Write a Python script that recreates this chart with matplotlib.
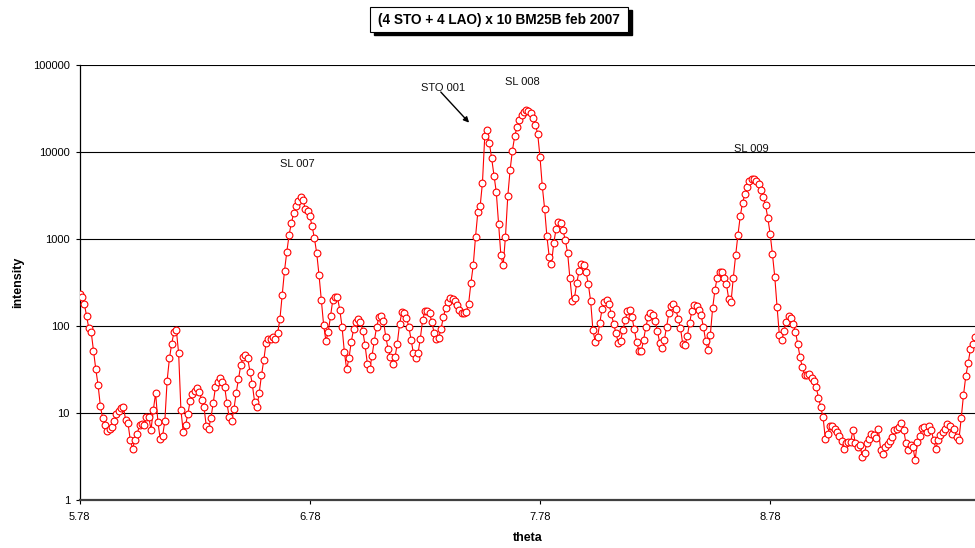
import numpy as np
import matplotlib.pyplot as plt
from matplotlib.patches import Rectangle

plt.rcParams['font.family'] = ['Liberation Sans', 'DejaVu Sans']

# scan grid: theta from 5.78 in 0.01 deg steps
theta_start = 5.78
theta_step = 0.01

# intensities, 5.78 .. 7.06
counts_low = [
    237, 214, 182, 130, 94, 86, 52, 32, 21, 12,
    8.7, 7.3, 6.3, 6.6, 6.9, 8.2, 9.7, 10.6, 11.5, 11.8,
    8.3, 7.6, 4.9, 3.9, 4.9, 5.8, 7.2, 7.4, 7.3, 8.9,
    9.1, 6.4, 10.8, 17, 7.9, 5.0, 5.4, 8.0, 23.6, 42.5,
    63, 86, 90, 49, 10.8, 6.1, 7.3, 9.7, 13.8, 16.6,
    18.1, 19.4, 17.6, 14.1, 11.8, 7.1, 6.5, 8.7, 12.9, 19.8,
    22.9, 25, 23, 20, 12.9, 8.9, 8.0, 11, 17, 24.4,
    35.6, 43.7, 46.5, 42.6, 30, 21.5, 13.5, 11.8, 17, 27.3,
    40.7, 64.5, 71, 71, 75.5, 71, 83, 120, 228, 434,
    715, 1120, 1550, 1980, 2400, 2770, 3020, 2860, 2240, 2130,
    1830, 1410, 1020, 690, 385, 202, 103, 67.5, 86, 130,
    202, 218, 214, 155, 98, 50.6, 31.8, 42.5, 66, 91.5,
    112, 120, 112, 88.5, 60, 37, 31.8, 45.2, 67.5,
]

# 7.07 .. 8.34
counts_mid = [
    97, 126, 130, 115, 75, 55, 44.5, 36.5, 43.7, 63,
    106, 144, 140, 125, 98, 70, 48.6, 42.5, 48.6, 72,
    117, 150, 150, 140, 112, 83.5, 71.6, 73.5, 93, 126,
    163, 187, 211, 205, 192, 174, 153, 142, 140, 147,
    182, 315, 500, 1070, 2050, 2400, 4450, 15200, 18200, 12800,
    8500, 5400, 3500, 1510, 660, 500, 1070, 3100, 6200, 10400,
    15200, 19500, 23300, 26600, 29000, 30300, 29900, 28300, 25000, 20800,
    16300, 8850, 4060, 2250, 1080, 630, 525, 910, 1320, 1560,
    1550, 1260, 975, 695, 355, 195, 213, 317, 433, 515,
    500, 417, 303, 195, 90, 66, 74, 110, 159, 187,
    199, 179, 137, 107, 84, 64.5, 67.5, 90, 117, 150,
    152, 126, 91.5, 65.5, 52, 51.7, 69, 98, 128, 142,
    135, 115, 88.5, 64.5, 55.4, 69, 98, 142,
]

# 8.35 .. 9.67
counts_high = [
    170, 182, 159, 122, 96, 63, 60, 77, 109, 150,
    173, 171, 155, 133, 98, 67, 53, 79, 160, 260,
    362, 417, 417, 355, 303, 205, 190, 362, 650, 1120,
    1830, 2620, 3300, 3990, 4680, 4900, 4900, 4700, 4330, 3660,
    3080, 2450, 1740, 1150, 670, 370, 167, 79, 70, 88.5,
    112, 130, 123, 106, 86, 62, 43.7, 33.5, 27.4, 27.4,
    28, 25.3, 23.3, 19.7, 15.1, 11.6, 8.9, 5.0, 5.8, 7.1,
    7.1, 6.5, 6.1, 5.4, 4.8, 3.9, 4.5, 4.6, 4.7, 6.4,
    4.5, 4.1, 4.3, 3.15, 3.5, 4.5, 5.0, 5.7, 5.6, 5.1,
    6.6, 3.8, 3.4, 4.1, 4.4, 4.8, 5.35, 6.4, 6.5, 7.0,
    7.6, 6.4, 4.5, 3.8, 4.3, 4.1, 2.9, 4.7, 5.4, 6.8,
    7.0, 6.1, 7.1, 6.4, 4.9, 3.9, 4.9, 5.6, 6.1, 6.5,
    7.5, 7.1, 5.8, 6.5, 5.35, 4.9, 8.7, 16.1, 26.6, 37.2,
    54, 62, 75,
]

intensity = np.array(counts_low + counts_mid + counts_high)
theta = theta_start + theta_step * np.arange(len(intensity))

x_ticks = [5.78, 6.78, 7.78, 8.78]
y_ticks = [1, 10, 100, 1000, 10000, 100000]

fig = plt.figure(figsize=(9.75, 5.48), dpi=100)
ax = fig.add_axes([0.0817, 0.0876, 0.9183, 0.7932])

ax.plot(theta, intensity, color='red', lw=0.8, marker='o', ms=4.9,
        mfc='white', mec='red', mew=0.8, zorder=3)

ax.set_yscale('log')
ax.set_ylim(1, 100000)
ax.set_xlim(5.78, 9.67)
ax.set_yticks(y_ticks)
ax.set_yticklabels([str(v) for v in y_ticks])
ax.minorticks_off()
ax.set_xticks(x_ticks)
ax.set_xticklabels([f'{v:.2f}' for v in x_ticks])
ax.tick_params(axis='both', direction='out', length=3, width=0.8,
               labelsize=8, color='black')
ax.tick_params(axis='x', pad=6)
ax.tick_params(axis='y', pad=4)

ax.grid(axis='y', color='black', lw=0.8, zorder=1)
ax.set_axisbelow(True)
for s in ['top', 'right']:
    ax.spines[s].set_visible(False)
ax.spines['left'].set_linewidth(0.9)
ax.spines['bottom'].set_linewidth(1.6)
ax.spines['bottom'].set_color('#404040')

ax.set_xlabel('theta', fontsize=9, fontweight='bold')
ax.set_ylabel('intensity', fontsize=9, fontweight='bold')
ax.xaxis.set_label_coords(0.5, -0.074)
ax.yaxis.set_label_coords(-0.062, 0.5)

# peak labels
lab = dict(fontsize=8, ha='center', va='center', color='#111111')
ax.text(6.724, 7300, 'SL 007', **lab)
ax.text(7.359, 55000, 'STO 001', **lab)
ax.text(7.704, 63500, 'SL 008', **lab)
ax.text(8.700, 11000, 'SL 009', **lab)
ax.annotate('', xy=(7.472, 21900), xytext=(7.349, 49300),
            arrowprops=dict(arrowstyle='-|>', color='black', lw=1,
                            mutation_scale=8, shrinkA=0, shrinkB=0))

# boxed title with drop shadow
fig.add_artist(Rectangle((0.3836, 0.9361), 0.2646, 0.0456,
                         transform=fig.transFigure, fc='black', ec='black'))
fig.add_artist(Rectangle((0.3795, 0.9416), 0.2646, 0.0456,
                         transform=fig.transFigure, fc='white', ec='black',
                         lw=0.8))
fig.text(0.5118, 0.9644, '(4 STO + 4 LAO) x 10 BM25B feb 2007',
         fontsize=9.8, fontweight='bold', ha='center', va='center')

fig.savefig('out.png', dpi=100)
